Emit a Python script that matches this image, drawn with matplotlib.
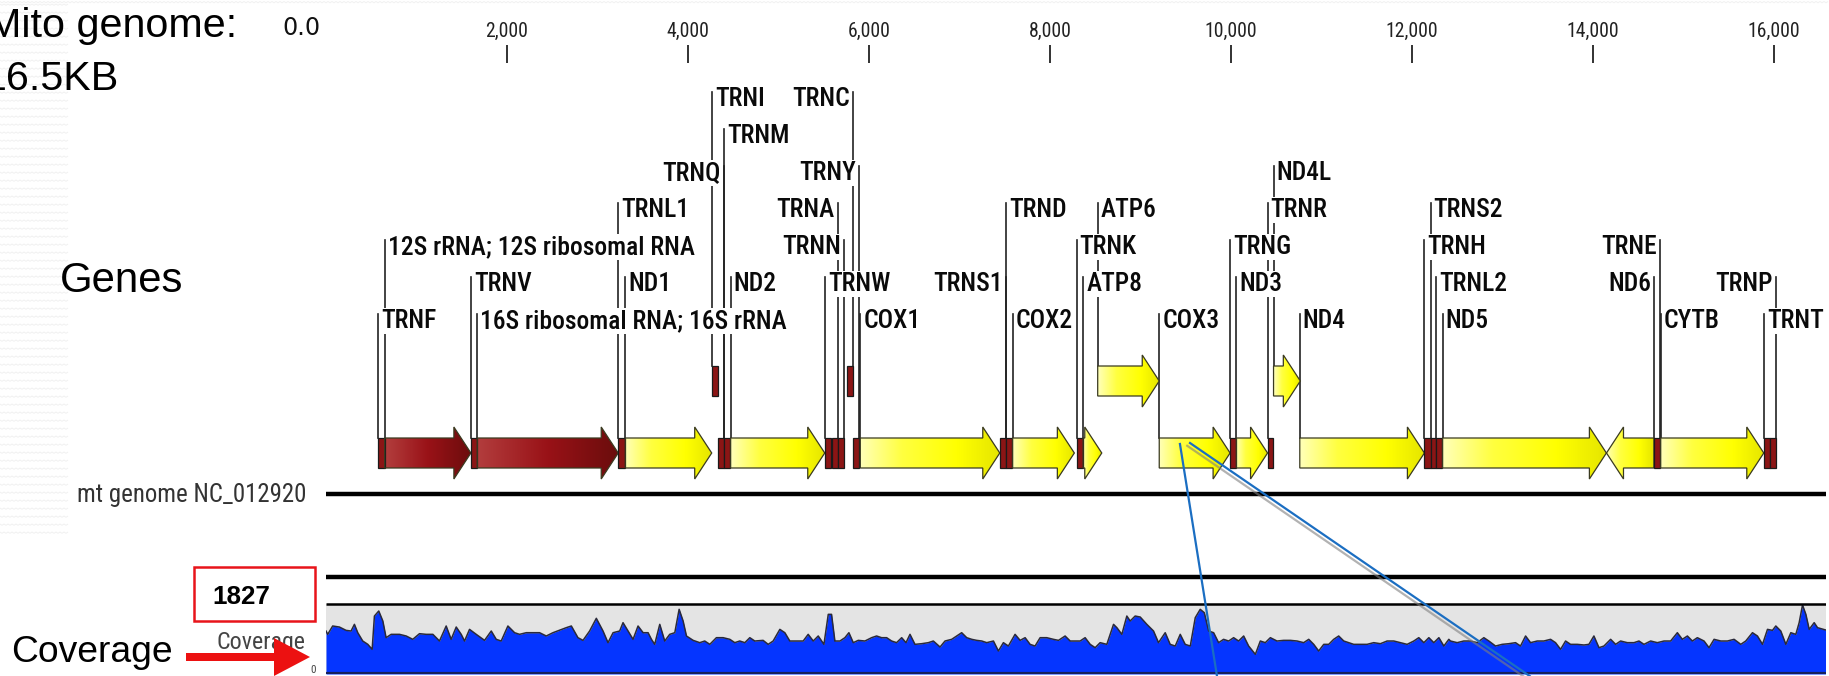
import numpy as np
import matplotlib
matplotlib.use('Agg')
import matplotlib.pyplot as plt
from matplotlib import font_manager, patheffects
from matplotlib.patches import Polygon, Rectangle, FancyArrow
from matplotlib.collections import LineCollection

W, H = 1829, 676
GENOME_LEN = 16569

# features on NC_012920
feat_names = ['TRNF', '12S rRNA; 12S ribosomal RNA', 'TRNV', '16S ribosomal RNA; 16S rRNA', 'TRNL1',
              'ND1', 'TRNI', 'TRNQ', 'TRNM', 'ND2', 'TRNW', 'TRNA', 'TRNN', 'TRNC', 'TRNY', 'COX1',
              'TRNS1', 'TRND', 'COX2', 'TRNK', 'ATP8', 'ATP6', 'COX3', 'TRNG', 'ND3', 'TRNR', 'ND4L',
              'ND4', 'TRNH', 'TRNS2', 'TRNL2', 'ND5', 'ND6', 'TRNE', 'CYTB', 'TRNT', 'TRNP']
feat_start = [577, 648, 1602, 1671, 3230, 3307, 4263, 4329, 4402, 4470, 5512, 5587, 5657, 5761,
              5826, 5904, 7446, 7518, 7586, 8295, 8366, 8527, 9207, 9991, 10059, 10405, 10470,
              10760, 12138, 12207, 12266, 12337, 14149, 14674, 14747, 15888, 15956]
feat_end = [647, 1601, 1670, 3229, 3304, 4262, 4331, 4400, 4469, 5511, 5579, 5655, 5729, 5826,
            5891, 7445, 7514, 7585, 8269, 8364, 8572, 9207, 9990, 10058, 10404, 10469, 10766,
            12137, 12206, 12265, 12336, 14148, 14673, 14742, 15887, 15953, 16023]
feat_strand = [1, 1, 1, 1, 1, 1, 1, -1, 1, 1, 1, -1, -1, -1, -1, 1, -1, 1, 1, 1, 1, 1, 1, 1, 1,
               1, 1, 1, 1, 1, 1, 1, -1, -1, 1, 1, -1]
feat_kind = ['trna', 'rrna', 'trna', 'rrna', 'trna', 'cds', 'trna', 'trna', 'trna', 'cds', 'trna',
             'trna', 'trna', 'trna', 'trna', 'cds', 'trna', 'trna', 'cds', 'trna', 'cds', 'cds',
             'cds', 'trna', 'cds', 'trna', 'cds', 'cds', 'trna', 'trna', 'trna', 'cds', 'cds',
             'trna', 'cds', 'trna', 'trna']

tick_pos = [2000, 4000, 6000, 8000, 10000, 12000, 14000, 16000]
tick_labels = ['2,000', '4,000', '6,000', '8,000', '10,000', '12,000', '14,000', '16,000']

cov_max = 1827
cov_pos = [0, 19, 74, 148, 222, 277, 314, 351, 406, 462, 510, 535, 583, 628, 664, 720, 812, 886,
           959, 1033, 1107, 1181, 1254, 1328, 1383, 1439, 1494, 1531, 1586, 1660, 1752, 1826, 1881,
           1936, 2010, 2084, 2139, 2213, 2360, 2434, 2508, 2655, 2711, 2784, 2840, 2913, 2987, 3061,
           3116, 3172, 3245, 3282, 3338, 3393, 3448, 3504, 3559, 3596, 3632, 3688, 3743, 3798, 3854,
           3902, 3946, 3983, 4057,
           4130, 4185, 4241, 4314, 4388, 4462, 4517, 4572, 4628, 4683, 4738, 4830, 4886, 4941, 5015,
           5070, 5125, 5199, 5273, 5328, 5384, 5439, 5502, 5550, 5586, 5623, 5679, 5734, 5778, 5826,
           5881, 5955, 6029, 6084, 6139, 6195, 6250, 6305, 6361, 6409, 6453, 6508, 6582, 6656, 6711,
           6785, 6840, 6914, 6969, 7024, 7080, 7135, 7190, 7246, 7301, 7375, 7430, 7485, 7540, 7614,
           7670, 7725, 7780, 7835, 7891, 7964, 8038, 8094, 8167, 8223,
           8333, 8388, 8444, 8499, 8554, 8628, 8702, 8739, 8794, 8849, 8886, 8941, 8997, 9070, 9144,
           9199, 9273, 9328, 9384, 9439, 9494, 9550, 9605, 9660, 9705, 9753, 9808, 9863, 9918, 9974,
           10029, 10084, 10140, 10195, 10269, 10324, 10379, 10435, 10508, 10582, 10656, 10730,
           10803, 10859, 10914, 10969, 11025, 11080, 11135, 11190, 11246, 11301, 11356, 11430,
           11504, 11577, 11651, 11725, 11799, 11873, 11946, 12020, 12075, 12131, 12186, 12241,
           12297, 12352, 12407,
           12425, 12499, 12572, 12646, 12720, 12794, 12849, 12923, 12996, 13070, 13144, 13199,
           13255, 13310, 13384, 13457, 13531, 13586, 13642, 13697, 13752, 13826, 13900, 13955,
           14010, 14066, 14121, 14195, 14250, 14305, 14379, 14453, 14508, 14563, 14637, 14711,
           14785, 14858, 14932, 14987, 15043, 15098, 15153, 15227, 15282, 15338, 15412, 15485,
           15559, 15633, 15688, 15762, 15817, 15873, 15928, 15983, 16020, 16075, 16131, 16186,
           16241, 16278, 16315, 16352, 16389, 16444, 16481, 16569]
cov_val = [1122, 1035, 1253, 1226, 1139, 1122, 1296, 1078, 861, 774, 644, 1513, 1644, 1383, 948,
           1035, 1035, 992, 905, 1052, 1035, 1035, 861, 1253, 905, 1226, 1035, 861, 1165, 1035, 878,
           1122, 905, 861, 1253, 1078, 1035, 1078, 1078, 992, 1078, 1209, 1253, 948, 878, 1122, 1453,
           1122, 818, 1078, 1122, 1340, 1122, 905, 1253, 1078, 1078, 905, 774, 1296, 861, 1035,
           1078, 1688, 1383, 992, 878,
           818, 861, 774, 948, 948, 905, 818, 861, 818, 948, 861, 878, 774, 861, 1165, 1078, 861,
           861, 861, 1035, 861, 992, 774, 1557, 1557, 861, 861, 948, 1078, 818, 878, 861, 948, 992,
           948, 948, 861, 818, 948, 818, 1035, 774, 791, 818, 861, 704, 861, 905, 992, 1078, 948,
           905, 878, 861, 818, 861, 600, 818, 730, 1035, 878, 948, 774, 730, 948, 948, 905, 878, 992,
           861,
           861, 948, 774, 687, 818, 774, 1296, 1209, 1035, 1513, 1383, 1513, 1487, 1296, 1122, 818,
           1078, 774, 730, 1035, 774, 730, 1470, 1688, 1600, 1122, 1078, 818, 905, 861, 948, 861,
           992, 730, 513, 861, 818, 948, 861, 878, 878, 861, 818, 905, 774, 600, 774, 774, 905, 992,
           861, 818, 774, 774, 774, 818, 791, 861, 861, 818, 774, 861, 948, 818, 948, 818, 948, 730,
           905,
           861, 818, 861, 861, 818, 948, 861, 730, 774, 791, 818, 730, 992, 818, 861, 861, 905, 818,
           644, 861, 774, 774, 757, 774, 992, 687, 730, 905, 774, 861, 818, 818, 861, 774, 861, 818,
           861, 861, 1078, 905, 992, 861, 948, 861, 687, 905, 861, 861, 905, 774, 861, 1078, 992,
           774, 1165, 1139, 1253, 1122, 774, 1078, 1035, 1340, 1801, 1557, 1165, 1340, 1209, 1150]

# blue zoom lines drawn over the slide (genome positions)
callout_from = [9436, 9547]
callout_to = [9845, 13300]

# ---- layout (pixels) ----
X0, X1 = 326, 1825.5
BP_PER_PX = GENOME_LEN / (X1 - X0)
ROW_Y = [97 + 37 * k for k in range(7)]
MAIN_Y, UPPER_Y = 453, 381
BODY, TIP = 15, 26
HEAD = 17 * BP_PER_PX
upper_track = {'TRNI', 'TRNC', 'ATP6', 'ND4L'}
label_row = {
    'TRNI': 0, 'TRNC': 0,
    'TRNM': 1,
    'TRNQ': 2, 'TRNY': 2, 'ND4L': 2,
    'TRNL1': 3, 'TRNA': 3, 'TRND': 3, 'ATP6': 3, 'TRNR': 3, 'TRNS2': 3,
    '12S rRNA; 12S ribosomal RNA': 4, 'TRNN': 4, 'TRNK': 4, 'TRNG': 4, 'TRNH': 4, 'TRNE': 4,
    'TRNV': 5, 'ND1': 5, 'ND2': 5, 'TRNW': 5, 'TRNS1': 5, 'ATP8': 5, 'ND3': 5, 'TRNL2': 5,
    'ND6': 5, 'TRNP': 5,
    'TRNF': 6, '16S ribosomal RNA; 16S rRNA': 6, 'COX1': 6, 'COX2': 6, 'COX3': 6, 'ND4': 6,
    'ND5': 6, 'CYTB': 6, 'TRNT': 6,
}

avail = {f.name for f in font_manager.fontManager.ttflist}
NARROW = 'DejaVu Sans'
for cand in ['Roboto Condensed', 'Liberation Sans Narrow']:
    if cand in avail:
        NARROW = cand
        break
ARIAL = 'Liberation Sans'

fig = plt.figure(figsize=(W / 100, H / 100), dpi=100)
renderer = fig.canvas.get_renderer()


def fit_size(txt, width_px, **kw):
    t = fig.text(0, 0, txt, fontsize=20, **kw)
    w = t.get_window_extent(renderer).width
    t.remove()
    return 20 * width_px / w


lab_fs = fit_size('12S rRNA; 12S ribosomal RNA', 307, family=NARROW, weight=500)
tick_fs = fit_size('2,000', 43, family=NARROW)
cap = 0.72 * lab_fs * 100 / 72

# background canvas in pixel units
bg = fig.add_axes([0, 0, 1, 1])
bg.set_xlim(0, W)
bg.set_ylim(H, 0)
bg.axis('off')
bg.set_zorder(1)

zz = np.arange(0, 70, 2.0)
segs = [np.column_stack([zz, y0 + 1.3 * (np.arange(len(zz)) % 2)]) for y0 in np.arange(4, 540, 8)]
zt = np.arange(0, W, 2.0)
segs.append(np.column_stack([zt, 1.5 + 1.3 * (np.arange(len(zt)) % 2)]))
bg.add_collection(LineCollection(segs, colors='#f1f1f1', lw=0.7))

big = fit_size('6.5KB', 112, family=ARIAL)
bg.text(237, 37, 'Mito genome:', family=ARIAL, fontsize=big, ha='right', va='baseline')
bg.text(119, 90, '16.5KB', family=ARIAL, fontsize=big, ha='right', va='baseline')
bg.text(60, 292, 'Genes', family=ARIAL, fontsize=fit_size('Genes', 123, family=ARIAL),
        va='baseline')
bg.text(11, 662, 'Coverage', family=ARIAL, fontsize=fit_size('Coverage', 161, family=ARIAL),
        va='baseline')
bg.text(321, 35, '0.0', family='DejaVu Sans', fontsize=fit_size('0.0', 38, family='DejaVu Sans'),
        ha='right', va='baseline', color='#111')
bg.text(306, 502, 'mt genome NC_012920', family=NARROW,
        fontsize=fit_size('mt genome NC_012920', 230, family=NARROW),
        ha='right', va='baseline', color='#333')
bg.add_patch(Rectangle((194, 567), 121, 54, fill=False, ec='#e8141a', lw=1.8))
bg.text(212, 604, '1827', family=ARIAL, weight='bold',
        fontsize=fit_size('1827', 58, family=ARIAL, weight='bold'), va='baseline')
bg.text(306, 649, 'Coverage', family=NARROW, fontsize=fit_size('Coverage', 89, family=NARROW),
        ha='right', va='baseline', color='#444')
bg.text(313, 673, '0', family=NARROW, fontsize=8, ha='center', va='baseline', color='#444')
bg.add_patch(FancyArrow(186, 657, 124, 0, width=8, head_width=38, head_length=36,
                        length_includes_head=True, color='#ec1111', lw=0, zorder=5))

# coverage track
cax = fig.add_axes([X0 / W, 1 - 674 / H, (X1 - X0) / W, 70 / H])
cax.set_zorder(2)
cax.set_facecolor('#e4e4e4')
cax.fill_between(cov_pos, cov_val, 0, color='#0535ff', lw=0)
cax.plot(cov_pos, cov_val, color='#2a2a3a', lw=1.1)
cax.axhline(0, color='#16215e', lw=3)
cax.set_xlim(0, GENOME_LEN)
cax.set_ylim(0, cov_max)
cax.set_xticks([])
cax.set_yticks([])
for s in cax.spines.values():
    s.set_visible(False)

# gene track, x in bp, y in pixels from top
ax = fig.add_axes([X0 / W, 0, (X1 - X0) / W, 1])
ax.set_zorder(3)
ax.patch.set_visible(False)
ax.axis('off')


def grad(stops, n=96):
    t = np.linspace(0, 1, n)
    p = [s[0] for s in stops]
    c = np.array([s[1] for s in stops])
    return np.stack([np.interp(t, p, c[:, k]) for k in range(3)], axis=-1)[np.newaxis]


yellow = grad([(0, (1, 1, 0.72)), (0.3, (1, 1, 0.25)), (0.7, (1, 1, 0)), (1, (0.9, 0.9, 0))])
red = grad([(0, (0.70, 0.24, 0.24)), (0.5, (0.60, 0.07, 0.09)), (1, (0.42, 0.05, 0.05))])

for name, s, e, strand, kind in zip(feat_names, feat_start, feat_end, feat_strand, feat_kind):
    yc = UPPER_Y if name in upper_track else MAIN_Y
    if kind == 'trna':
        ax.add_patch(Rectangle((s, yc - BODY), e - s, 2 * BODY, fc='#8b1515', ec='#1a1a1a',
                               lw=0.9, zorder=5))
    else:
        hl = min(HEAD, e - s)
        if strand > 0:
            b = e - hl
            pts = [(s, yc - BODY), (b, yc - BODY), (b, yc - TIP), (e, yc), (b, yc + TIP),
                   (b, yc + BODY), (s, yc + BODY)]
        else:
            b = s + hl
            pts = [(e, yc - BODY), (b, yc - BODY), (b, yc - TIP), (s, yc), (b, yc + TIP),
                   (b, yc + BODY), (e, yc + BODY)]
        poly = Polygon(pts, closed=True, fc='none', ec='#3a3a20', lw=0.9, zorder=5)
        ax.add_patch(poly)
        im = ax.imshow(yellow if kind == 'cds' else red, extent=(s, e, yc + TIP, yc - TIP),
                       aspect='auto', interpolation='bilinear', zorder=4)
        im.set_clip_path(poly)

    # label with leader line
    ylab = ROW_Y[label_row[name]]
    xl = s if strand > 0 else e
    ax.plot([xl, xl], [ylab - 5, yc - BODY], color='#222', lw=1.2, zorder=2)
    off = 3 * BP_PER_PX
    ax.text(xl + off if strand > 0 else xl - off, ylab + cap / 2, name,
            ha='left' if strand > 0 else 'right', va='baseline', family=NARROW, weight=500,
            fontsize=lab_fs, color='#0a0a0a',
            bbox=dict(fc='white', ec='none', pad=0.6), zorder=3)

# ruler
ax.vlines(tick_pos, 45, 63, color='#222', lw=1.3)
for p, lab in zip(tick_pos, tick_labels):
    ax.text(p, 37, lab, ha='center', va='baseline', family=NARROW, fontsize=tick_fs, color='#222')

# track lines
ax.hlines([494, 577], 0, GENOME_LEN, color='black', lw=3.2)
ax.hlines(603.5, 0, GENOME_LEN, color='black', lw=1.8)

# blue zoom lines
shadow = [patheffects.SimpleLineShadow(offset=(-2, -2), shadow_color='gray', alpha=0.6),
          patheffects.Normal()]
ax.plot([callout_from[0], callout_to[0]], [444, H], color='#1b6ec2', lw=1.6, clip_on=False,
        zorder=8)
ax.plot([callout_from[1], callout_to[1]], [443, H], color='#1b6ec2', lw=1.6, clip_on=False,
        zorder=8, path_effects=shadow)

ax.set_xlim(0, GENOME_LEN)
ax.set_ylim(H, 0)

fig.savefig('out.png', dpi=100, facecolor='white')
